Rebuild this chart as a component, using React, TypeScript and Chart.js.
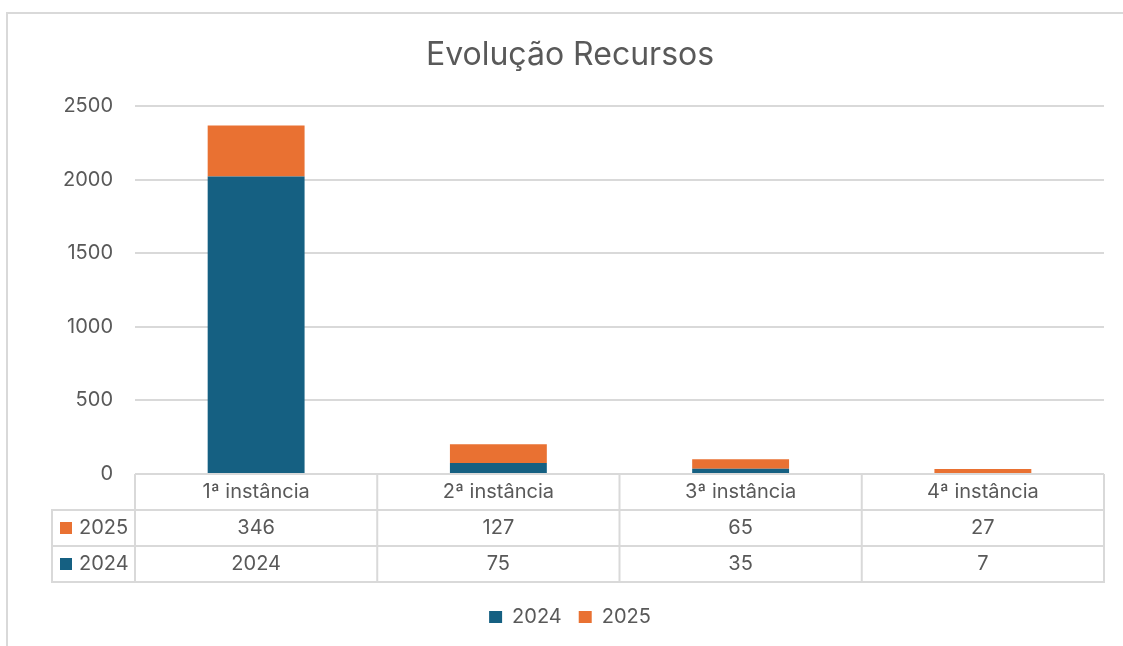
import React, { useEffect, useRef } from "react";
import { Chart, registerables } from "chart.js";

Chart.register(...registerables);

const categories = ["1ª instância", "2ª instância", "3ª instância", "4ª instância"];
const series2024 = [2024, 75, 35, 7];
const series2025 = [346, 127, 65, 27];
const seriesLabels = ["2024", "2025"];
const seriesColors = ["#156082", "#E97132"];
const yTicks = [0, 500, 1000, 1500, 2000, 2500];
const titleText = "Evolução Recursos";

const FONT = "Inter";
const TEXT = "#595959";
const LINE = "#d9d9d9";
const FS = 20;

const tablePlugin = {
  id: "dataTable",
  afterDraw(chart: any) {
    const { ctx, chartArea } = chart;
    const xs = chart.scales.x;
    const n = categories.length;
    const step = n > 1 ? xs.getPixelForValue(1) - xs.getPixelForValue(0) : chartArea.right - chartArea.left;
    const top = chartArea.bottom;
    const rowH = 36;
    const leftCol = 52;
    const right = chartArea.right;
    const left = chartArea.left;
    const rows = chart.data.datasets.slice().reverse();
    const bottom = top + (rows.length + 1) * rowH;
    ctx.save();
    ctx.strokeStyle = LINE;
    ctx.lineWidth = 2;
    ctx.beginPath();
    ctx.moveTo(left, top);
    ctx.lineTo(right, top);
    for (let r = 1; r <= rows.length + 1; r++) {
      ctx.moveTo(leftCol - 1, top + r * rowH);
      ctx.lineTo(right + 1, top + r * rowH);
    }
    for (let i = 0; i <= n; i++) {
      const x = xs.getPixelForValue(0) - step / 2 + i * step;
      ctx.moveTo(x, top);
      ctx.lineTo(x, bottom);
    }
    ctx.moveTo(leftCol, top + rowH);
    ctx.lineTo(leftCol, bottom);
    ctx.stroke();

    ctx.fillStyle = TEXT;
    ctx.font = `${FS}px ${FONT}`;
    ctx.textAlign = "center";
    ctx.textBaseline = "middle";
    categories.forEach((c, i) => {
      ctx.fillText(c, xs.getPixelForValue(i), top + rowH / 2);
    });
    rows.forEach((ds: any, r: number) => {
      const cy = top + rowH * (r + 1) + rowH / 2;
      ds.data.forEach((v: number, i: number) => {
        ctx.fillStyle = TEXT;
        ctx.textAlign = "center";
        ctx.fillText(String(v), xs.getPixelForValue(i), cy);
      });
      ctx.fillStyle = ds.backgroundColor;
      ctx.fillRect(60, cy - 6, 12, 12);
      ctx.fillStyle = TEXT;
      ctx.textAlign = "left";
      ctx.fillText(ds.label, 79, cy);
    });
    ctx.restore();
  },
};

export default function App() {
  const ref = useRef<HTMLCanvasElement>(null);
  useEffect(() => {
    if (!ref.current) return;
    const chart = new Chart(ref.current, {
      type: "bar",
      data: {
        labels: categories,
        datasets: [
          { label: seriesLabels[0], data: series2024, backgroundColor: seriesColors[0], borderWidth: 0 },
          { label: seriesLabels[1], data: series2025, backgroundColor: seriesColors[1], borderWidth: 0 },
        ],
      },
      options: {
        responsive: false,
        devicePixelRatio: 1,
        animation: false,
        datasets: { bar: { categoryPercentage: 1, barPercentage: 0.4 } },
        layout: { padding: { left: 36, right: 19, top: 0, bottom: 9 } },
        plugins: {
          title: {
            display: true,
            text: titleText,
            color: TEXT,
            font: { family: FONT, size: 32, weight: "normal" },
            padding: { top: 36, bottom: 32 },
          },
          legend: {
            position: "bottom",
            labels: {
              color: TEXT,
              font: { family: FONT, size: FS },
              boxWidth: 13,
              boxHeight: 12,
              padding: 17,
            },
          },
          tooltip: { enabled: false },
        },
        scales: {
          x: {
            stacked: true,
            grid: { display: false },
            border: { display: false },
            ticks: { display: false },
            afterFit: (s: any) => {
              s.height = 116;
            },
          },
          y: {
            stacked: true,
            min: 0,
            max: 2500,
            afterBuildTicks: (s: any) => {
              s.ticks = yTicks.map((v) => ({ value: v }));
            },
            grid: { color: LINE, lineWidth: 2, drawTicks: false },
            border: { display: false },
            ticks: {
              color: TEXT,
              font: { family: FONT, size: FS },
              padding: 22,
              callback: (v: any) => String(v),
            },
            afterFit: (s: any) => {
              s.width = 99;
            },
          },
        },
      },
      plugins: [tablePlugin],
    });
    return () => chart.destroy();
  }, []);
  return (
    <div style={{ position: "fixed", left: 0, top: 0, width: 1123, height: 646, background: "#fff", overflow: "hidden" }}>
      <canvas ref={ref} width={1123} height={646} style={{ display: "block" }} />
      <div
        style={{
          position: "absolute",
          left: 6,
          top: 12,
          width: 1200,
          height: 700,
          border: `2px solid ${LINE}`,
          pointerEvents: "none",
        }}
      />
    </div>
  );
}
